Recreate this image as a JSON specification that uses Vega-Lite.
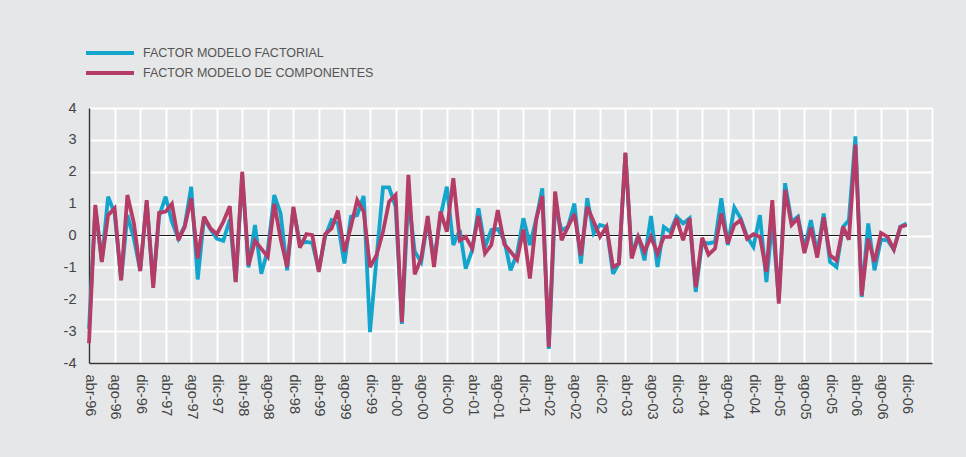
{
  "$schema": "https://vega.github.io/schema/vega-lite/v6.json",
  "width": 843,
  "height": 255,
  "autosize": {"type": "none"},
  "padding": {"left": 89, "top": 108, "right": 34, "bottom": 94},
  "background": "#e6e7e8",
  "config": {
    "view": {"stroke": null},
    "font": "Liberation Sans",
    "axis": {"grid": true, "gridColor": "#ffffff", "gridWidth": 2, "gridOpacity": 1, "ticks": false, "domainColor": "#333333", "domainWidth": 1.5, "labelColor": "#444444", "title": null, "labelOverlap": false, "tickCount": 200}
  },
  "data": {"values": [
    {"fecha": "1996-04-01", "factorial": -2.93, "componentes": -3.38},
    {"fecha": "1996-05-01", "factorial": 0.85, "componentes": 0.96},
    {"fecha": "1996-06-01", "factorial": -0.8, "componentes": -0.83},
    {"fecha": "1996-07-01", "factorial": 1.22, "componentes": 0.64},
    {"fecha": "1996-08-01", "factorial": 0.7, "componentes": 0.85},
    {"fecha": "1996-09-01", "factorial": -1.4, "componentes": -1.41},
    {"fecha": "1996-10-01", "factorial": 0.64, "componentes": 1.27},
    {"fecha": "1996-11-01", "factorial": -0.1, "componentes": 0.38},
    {"fecha": "1996-12-01", "factorial": -1.1, "componentes": -1.12},
    {"fecha": "1997-01-01", "factorial": 1.05, "componentes": 1.11},
    {"fecha": "1997-02-01", "factorial": -1.5, "componentes": -1.64},
    {"fecha": "1997-03-01", "factorial": 0.6, "componentes": 0.71},
    {"fecha": "1997-04-01", "factorial": 1.22, "componentes": 0.75},
    {"fecha": "1997-05-01", "factorial": 0.43, "componentes": 0.99},
    {"fecha": "1997-06-01", "factorial": -0.1, "componentes": -0.15},
    {"fecha": "1997-07-01", "factorial": 0.3, "componentes": 0.27},
    {"fecha": "1997-08-01", "factorial": 1.53, "componentes": 1.17},
    {"fecha": "1997-09-01", "factorial": -1.38, "componentes": -0.72},
    {"fecha": "1997-10-01", "factorial": 0.55, "componentes": 0.59},
    {"fecha": "1997-11-01", "factorial": 0.2, "componentes": 0.22},
    {"fecha": "1997-12-01", "factorial": -0.1, "componentes": 0.04},
    {"fecha": "1998-01-01", "factorial": -0.17, "componentes": 0.43},
    {"fecha": "1998-02-01", "factorial": 0.5, "componentes": 0.92},
    {"fecha": "1998-03-01", "factorial": -1.45, "componentes": -1.46},
    {"fecha": "1998-04-01", "factorial": 1.9, "componentes": 2.0},
    {"fecha": "1998-05-01", "factorial": -1.0, "componentes": -0.93},
    {"fecha": "1998-06-01", "factorial": 0.33, "componentes": -0.17},
    {"fecha": "1998-07-01", "factorial": -1.2, "componentes": -0.41},
    {"fecha": "1998-08-01", "factorial": -0.45, "componentes": -0.67},
    {"fecha": "1998-09-01", "factorial": 1.27, "componentes": 0.99},
    {"fecha": "1998-10-01", "factorial": 0.69, "componentes": -0.1},
    {"fecha": "1998-11-01", "factorial": -1.09, "componentes": -0.99},
    {"fecha": "1998-12-01", "factorial": 0.85, "componentes": 0.9},
    {"fecha": "1999-01-01", "factorial": -0.25, "componentes": -0.38},
    {"fecha": "1999-02-01", "factorial": -0.2, "componentes": 0.04},
    {"fecha": "1999-03-01", "factorial": -0.23, "componentes": 0.01},
    {"fecha": "1999-04-01", "factorial": -1.09, "componentes": -1.14},
    {"fecha": "1999-05-01", "factorial": -0.04, "componentes": 0.04},
    {"fecha": "1999-06-01", "factorial": 0.48, "componentes": 0.22},
    {"fecha": "1999-07-01", "factorial": 0.38, "componentes": 0.78},
    {"fecha": "1999-08-01", "factorial": -0.88, "componentes": -0.51},
    {"fecha": "1999-09-01", "factorial": 0.59, "componentes": 0.27},
    {"fecha": "1999-10-01", "factorial": 0.64, "componentes": 1.11},
    {"fecha": "1999-11-01", "factorial": 1.24, "componentes": 0.75},
    {"fecha": "1999-12-01", "factorial": -3.03, "componentes": -0.99},
    {"fecha": "2000-01-01", "factorial": -0.72, "componentes": -0.62},
    {"fecha": "2000-02-01", "factorial": 1.51, "componentes": 0.12},
    {"fecha": "2000-03-01", "factorial": 1.51, "componentes": 1.06},
    {"fecha": "2000-04-01", "factorial": 0.9, "componentes": 1.27},
    {"fecha": "2000-05-01", "factorial": -2.77, "componentes": -2.72},
    {"fecha": "2000-06-01", "factorial": 1.2, "componentes": 1.9},
    {"fecha": "2000-07-01", "factorial": -0.5, "componentes": -1.22},
    {"fecha": "2000-08-01", "factorial": -0.83, "componentes": -0.72},
    {"fecha": "2000-09-01", "factorial": 0.48, "componentes": 0.61},
    {"fecha": "2000-10-01", "factorial": -0.78, "componentes": -0.99},
    {"fecha": "2000-11-01", "factorial": 0.59, "componentes": 0.75},
    {"fecha": "2000-12-01", "factorial": 1.53, "componentes": 0.12},
    {"fecha": "2001-01-01", "factorial": -0.3, "componentes": 1.8},
    {"fecha": "2001-02-01", "factorial": 0.17, "componentes": -0.15},
    {"fecha": "2001-03-01", "factorial": -1.04, "componentes": -0.04},
    {"fecha": "2001-04-01", "factorial": -0.46, "componentes": -0.41},
    {"fecha": "2001-05-01", "factorial": 0.85, "componentes": 0.62},
    {"fecha": "2001-06-01", "factorial": -0.36, "componentes": -0.56},
    {"fecha": "2001-07-01", "factorial": 0.17, "componentes": -0.3},
    {"fecha": "2001-08-01", "factorial": 0.2, "componentes": 0.8},
    {"fecha": "2001-09-01", "factorial": -0.15, "componentes": -0.27},
    {"fecha": "2001-10-01", "factorial": -1.09, "componentes": -0.51},
    {"fecha": "2001-11-01", "factorial": -0.57, "componentes": -0.76},
    {"fecha": "2001-12-01", "factorial": 0.54, "componentes": 0.19},
    {"fecha": "2002-01-01", "factorial": -0.3, "componentes": -1.35},
    {"fecha": "2002-02-01", "factorial": 0.54, "componentes": 0.54},
    {"fecha": "2002-03-01", "factorial": 1.48, "componentes": 1.24},
    {"fecha": "2002-04-01", "factorial": -3.56, "componentes": -3.5},
    {"fecha": "2002-05-01", "factorial": 0.9, "componentes": 1.38},
    {"fecha": "2002-06-01", "factorial": 0.17, "componentes": -0.15},
    {"fecha": "2002-07-01", "factorial": 0.27, "componentes": 0.27},
    {"fecha": "2002-08-01", "factorial": 1.0, "componentes": 0.67},
    {"fecha": "2002-09-01", "factorial": -0.88, "componentes": -0.62},
    {"fecha": "2002-10-01", "factorial": 1.17, "componentes": 0.9},
    {"fecha": "2002-11-01", "factorial": 0.06, "componentes": 0.43},
    {"fecha": "2002-12-01", "factorial": 0.33, "componentes": -0.04},
    {"fecha": "2003-01-01", "factorial": 0.27, "componentes": 0.27},
    {"fecha": "2003-02-01", "factorial": -1.2, "componentes": -0.99},
    {"fecha": "2003-03-01", "factorial": -0.88, "componentes": -0.88},
    {"fecha": "2003-04-01", "factorial": 2.58, "componentes": 2.6},
    {"fecha": "2003-05-01", "factorial": -0.62, "componentes": -0.72},
    {"fecha": "2003-06-01", "factorial": 0.01, "componentes": -0.04},
    {"fecha": "2003-07-01", "factorial": -0.78, "componentes": -0.51},
    {"fecha": "2003-08-01", "factorial": 0.61, "componentes": -0.04},
    {"fecha": "2003-09-01", "factorial": -0.99, "componentes": -0.57},
    {"fecha": "2003-10-01", "factorial": 0.27, "componentes": -0.04},
    {"fecha": "2003-11-01", "factorial": 0.12, "componentes": -0.04},
    {"fecha": "2003-12-01", "factorial": 0.59, "componentes": 0.54},
    {"fecha": "2004-01-01", "factorial": 0.38, "componentes": -0.15},
    {"fecha": "2004-02-01", "factorial": 0.54, "componentes": 0.54},
    {"fecha": "2004-03-01", "factorial": -1.77, "componentes": -1.62},
    {"fecha": "2004-04-01", "factorial": -0.2, "componentes": -0.07},
    {"fecha": "2004-05-01", "factorial": -0.25, "componentes": -0.6},
    {"fecha": "2004-06-01", "factorial": -0.2, "componentes": -0.41},
    {"fecha": "2004-07-01", "factorial": 1.17, "componentes": 0.69},
    {"fecha": "2004-08-01", "factorial": -0.3, "componentes": -0.25},
    {"fecha": "2004-09-01", "factorial": 0.88, "componentes": 0.33},
    {"fecha": "2004-10-01", "factorial": 0.54, "componentes": 0.48},
    {"fecha": "2004-11-01", "factorial": -0.04, "componentes": -0.1},
    {"fecha": "2004-12-01", "factorial": -0.36, "componentes": 0.04},
    {"fecha": "2005-01-01", "factorial": 0.64, "componentes": -0.04},
    {"fecha": "2005-02-01", "factorial": -1.46, "componentes": -1.14},
    {"fecha": "2005-03-01", "factorial": 0.48, "componentes": 1.11},
    {"fecha": "2005-04-01", "factorial": -2.0, "componentes": -2.14},
    {"fecha": "2005-05-01", "factorial": 1.64, "componentes": 1.43},
    {"fecha": "2005-06-01", "factorial": 0.43, "componentes": 0.33},
    {"fecha": "2005-07-01", "factorial": 0.59, "componentes": 0.54},
    {"fecha": "2005-08-01", "factorial": -0.41, "componentes": -0.55},
    {"fecha": "2005-09-01", "factorial": 0.48, "componentes": 0.25},
    {"fecha": "2005-10-01", "factorial": -0.57, "componentes": -0.69},
    {"fecha": "2005-11-01", "factorial": 0.69, "componentes": 0.57},
    {"fecha": "2005-12-01", "factorial": -0.83, "componentes": -0.62},
    {"fecha": "2006-01-01", "factorial": -0.99, "componentes": -0.78},
    {"fecha": "2006-02-01", "factorial": 0.27, "componentes": 0.27},
    {"fecha": "2006-03-01", "factorial": 0.48, "componentes": -0.13},
    {"fecha": "2006-04-01", "factorial": 3.11, "componentes": 2.85},
    {"fecha": "2006-05-01", "factorial": -1.93, "componentes": -1.88},
    {"fecha": "2006-06-01", "factorial": 0.38, "componentes": -0.1},
    {"fecha": "2006-07-01", "factorial": -1.09, "componentes": -0.83},
    {"fecha": "2006-08-01", "factorial": -0.13, "componentes": 0.08},
    {"fecha": "2006-09-01", "factorial": -0.15, "componentes": -0.04},
    {"fecha": "2006-10-01", "factorial": -0.44, "componentes": -0.44},
    {"fecha": "2006-11-01", "factorial": 0.27, "componentes": 0.27},
    {"fecha": "2006-12-01", "factorial": 0.38, "componentes": 0.33}
  ]},
  "transform": [{"fold": ["factorial", "componentes"], "as": ["serie", "valor"]}],
  "layer": [
    {
      "mark": {"type": "rule", "color": "#1a1a1a", "strokeWidth": 1},
      "encoding": {
        "x": {"datum": {"year": 1996, "month": 4, "date": 1, "utc": true}, "type": "temporal"},
        "x2": {"datum": {"year": 2006, "month": 12, "date": 1, "utc": true}},
        "y": {"datum": 0, "type": "quantitative"}
      }
    },
    {
      "mark": {"type": "line", "strokeWidth": 3.8, "strokeJoin": "miter", "strokeMiterLimit": 3},
      "encoding": {
        "x": {
          "field": "fecha", "type": "temporal",
          "scale": {"type": "utc", "domain": [{"year": 1996, "month": 4, "date": 1, "utc": true}, {"year": 2007, "month": 4, "date": 1, "utc": true}], "nice": false},
          "axis": {
            "labelAngle": 90, "labelFontSize": 14.5, "labelPadding": 11, "tickCount": 200,
            "values": [
              {"year": 1996, "month": 4, "date": 1, "utc": true}, {"year": 1996, "month": 8, "date": 1, "utc": true}, {"year": 1996, "month": 12, "date": 1, "utc": true},
              {"year": 1997, "month": 4, "date": 1, "utc": true}, {"year": 1997, "month": 8, "date": 1, "utc": true}, {"year": 1997, "month": 12, "date": 1, "utc": true},
              {"year": 1998, "month": 4, "date": 1, "utc": true}, {"year": 1998, "month": 8, "date": 1, "utc": true}, {"year": 1998, "month": 12, "date": 1, "utc": true},
              {"year": 1999, "month": 4, "date": 1, "utc": true}, {"year": 1999, "month": 8, "date": 1, "utc": true}, {"year": 1999, "month": 12, "date": 1, "utc": true},
              {"year": 2000, "month": 4, "date": 1, "utc": true}, {"year": 2000, "month": 8, "date": 1, "utc": true}, {"year": 2000, "month": 12, "date": 1, "utc": true},
              {"year": 2001, "month": 4, "date": 1, "utc": true}, {"year": 2001, "month": 8, "date": 1, "utc": true}, {"year": 2001, "month": 12, "date": 1, "utc": true},
              {"year": 2002, "month": 4, "date": 1, "utc": true}, {"year": 2002, "month": 8, "date": 1, "utc": true}, {"year": 2002, "month": 12, "date": 1, "utc": true},
              {"year": 2003, "month": 4, "date": 1, "utc": true}, {"year": 2003, "month": 8, "date": 1, "utc": true}, {"year": 2003, "month": 12, "date": 1, "utc": true},
              {"year": 2004, "month": 4, "date": 1, "utc": true}, {"year": 2004, "month": 8, "date": 1, "utc": true}, {"year": 2004, "month": 12, "date": 1, "utc": true},
              {"year": 2005, "month": 4, "date": 1, "utc": true}, {"year": 2005, "month": 8, "date": 1, "utc": true}, {"year": 2005, "month": 12, "date": 1, "utc": true},
              {"year": 2006, "month": 4, "date": 1, "utc": true}, {"year": 2006, "month": 8, "date": 1, "utc": true}, {"year": 2006, "month": 12, "date": 1, "utc": true},
              {"year": 2007, "month": 4, "date": 1, "utc": true}
            ],
            "labelExpr": "utcyear(datum.value) > 2006 ? '' : ['ene','feb','mar','abr','may','jun','jul','ago','sep','oct','nov','dic'][utcmonth(datum.value)] + '-' + utcFormat(datum.value, '%y')"
          }
        },
        "y": {
          "field": "valor", "type": "quantitative",
          "scale": {"domain": [-4, 4], "nice": false, "zero": false},
          "axis": {"values": [-4, -3, -2, -1, 0, 1, 2, 3, 4], "tickCount": 200, "labelFontSize": 14.5, "labelPadding": 13, "labelExpr": "'' + datum.value"}
        },
        "color": {
          "field": "serie", "type": "nominal",
          "scale": {"domain": ["factorial", "componentes"], "range": ["#14a5cd", "#b43c66"]},
          "legend": {
            "orient": "none", "legendX": 9, "legendY": -67, "title": null,
            "symbolType": "M-2.4,0H2.4", "symbolSize": 400, "symbolStrokeWidth": 4,
            "labelFontSize": 12.5, "labelColor": "#555555", "labelOffset": 21, "labelLimit": 400,
            "rowPadding": 0, "padding": 0,
            "labelExpr": "datum.label == 'factorial' ? 'FACTOR MODELO FACTORIAL' : 'FACTOR MODELO DE COMPONENTES'"
          }
        }
      }
    }
  ]
}
